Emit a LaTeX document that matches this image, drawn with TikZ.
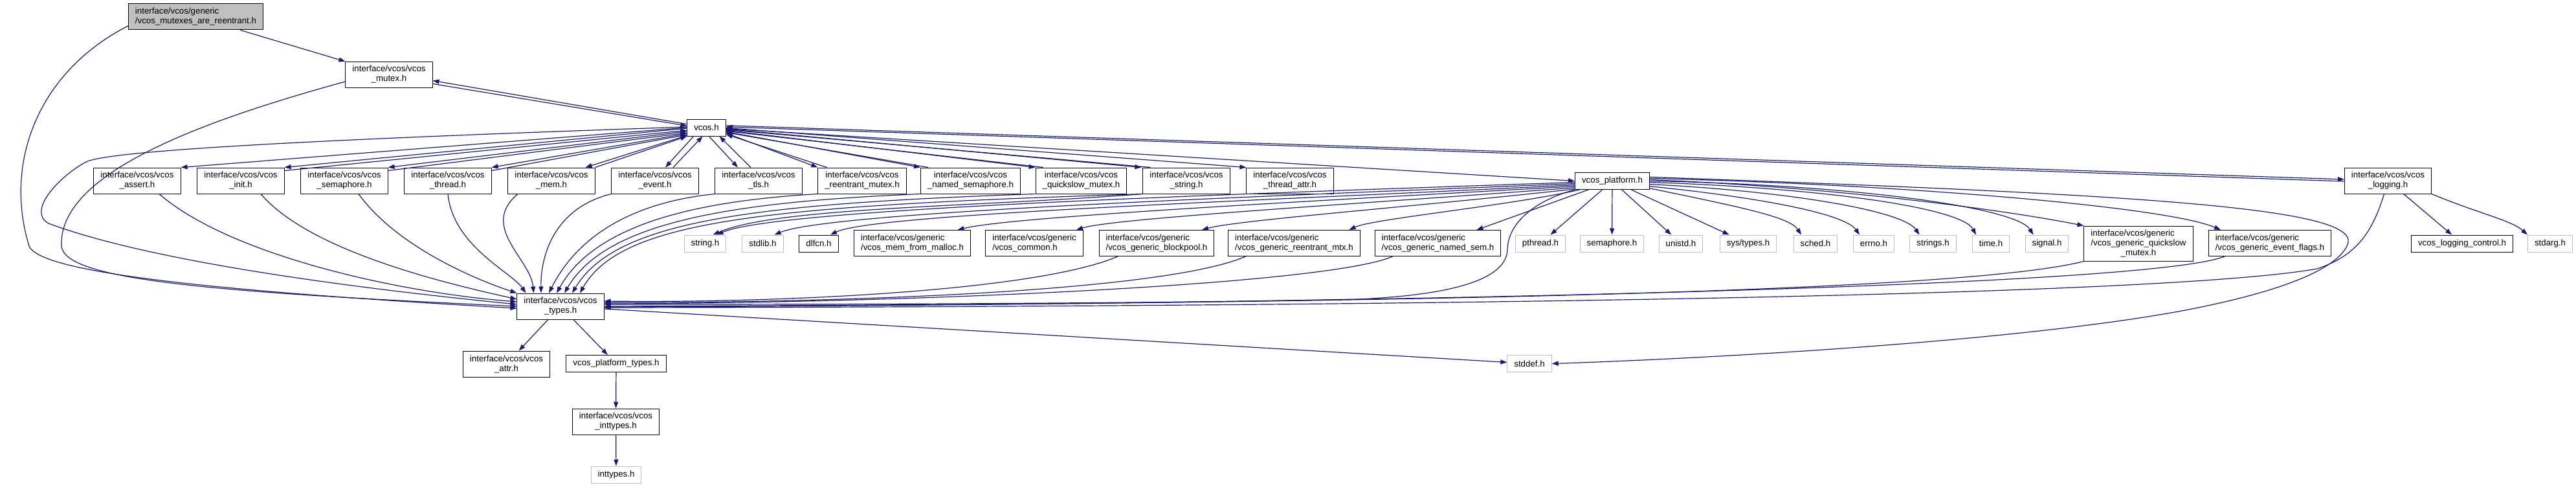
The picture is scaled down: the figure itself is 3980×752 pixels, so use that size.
\documentclass[tikz,border=0pt]{standalone}
\usepackage{fontspec}
\setmainfont{Liberation Sans}
\usetikzlibrary{arrows.meta}
\definecolor{edgeblue}{HTML}{191970}
\definecolor{rootgray}{HTML}{BFBFBF}
\definecolor{sysgray}{HTML}{BFBFBF}
\tikzset{
  hdr/.style={draw=black, line width=1pt, inner xsep=10.5pt, inner ysep=3pt, minimum height=26pt, font=\fontsize{13.3}{15}\selectfont},
  two/.style={hdr, minimum height=40pt, align=center},
  gen/.style={hdr, minimum height=40pt, align=left},
  three/.style={hdr, minimum height=54pt},
  sys/.style={hdr, draw=sysgray},
  dep/.style={draw=edgeblue, line width=1.2pt, -{Triangle[length=10pt,width=7pt]}}
}
\begin{document}
\begin{tikzpicture}[x=1pt,y=-1pt]
\useasboundingbox (0,0) rectangle (3980,752);

\node[gen, fill=rootgray] (root) at (302.5,26) {interface/vcos/generic\\/vcos\_mutexes\_are\_reentrant.h};
\node[two] (mutex) at (601,115) {interface/vcos/vcos\\\_mutex.h};
\node[hdr] (vcos) at (1091.5,197) {vcos.h};

\node[two] (assert) at (212,279) {interface/vcos/vcos\\\_assert.h};
\node[two] (init) at (372,279) {interface/vcos/vcos\\\_init.h};
\node[two] (sema) at (532,279) {interface/vcos/vcos\\\_semaphore.h};
\node[two] (thread) at (692,279) {interface/vcos/vcos\\\_thread.h};
\node[two] (mem) at (852,279) {interface/vcos/vcos\\\_mem.h};
\node[two] (event) at (1012,279) {interface/vcos/vcos\\\_event.h};
\node[two] (tls) at (1172,279) {interface/vcos/vcos\\\_tls.h};
\node[two] (remutex) at (1332,279) {interface/vcos/vcos\\\_reentrant\_mutex.h};
\node[two] (namedsema) at (1499.5,279) {interface/vcos/vcos\\\_named\_semaphore.h};
\node[two] (qsmutex) at (1670.5,279) {interface/vcos/vcos\\\_quickslow\_mutex.h};
\node[two] (vstring) at (1833,279) {interface/vcos/vcos\\\_string.h};
\node[two] (tattr) at (1993,279) {interface/vcos/vcos\\\_thread\_attr.h};
\node[hdr] (platform) at (2491,279.5) {vcos\_platform.h};
\node[two] (logging) at (3689.5,279) {interface/vcos/vcos\\\_logging.h};

\node[sys] (stringh) at (1089.5,376) {string.h};
\node[sys] (stdlibh) at (1178.5,376) {stdlib.h};
\node[hdr] (dlfcnh) at (1265,376) {dlfcn.h};
\node[gen] (memmalloc) at (1409.5,375.5) {interface/vcos/generic\\/vcos\_mem\_from\_malloc.h};
\node[gen] (common) at (1598,375.5) {interface/vcos/generic\\/vcos\_common.h};
\node[gen] (blockpool) at (1787,375.5) {interface/vcos/generic\\/vcos\_generic\_blockpool.h};
\node[gen] (remtx) at (1999.5,375.5) {interface/vcos/generic\\/vcos\_generic\_reentrant\_mtx.h};
\node[gen] (namedsem) at (2221.5,375.5) {interface/vcos/generic\\/vcos\_generic\_named\_sem.h};
\node[sys] (pthreadh) at (2380,376) {pthread.h};
\node[sys] (semah) at (2490.5,376) {semaphore.h};
\node[sys] (unistdh) at (2597,376) {unistd.h};
\node[sys] (systypesh) at (2701,376) {sys/types.h};
\node[sys] (schedh) at (2805,376) {sched.h};
\node[sys] (errnoh) at (2895,376) {errno.h};
\node[sys] (stringsh) at (2986.5,376) {strings.h};
\node[sys] (timeh) at (3076,376) {time.h};
\node[sys] (signalh) at (3162.5,376) {signal.h};
\node[three] (genqsm) at (3304,376) {\begin{tabular}{@{}l@{}}interface/vcos/generic\\/vcos\_generic\_quickslow\\\multicolumn{1}{@{}c@{}}{\_mutex.h}\end{tabular}};
\node[gen] (evflags) at (3507,375.5) {interface/vcos/generic\\/vcos\_generic\_event\_flags.h};
\node[hdr] (logctl) at (3804,376) {vcos\_logging\_control.h};
\node[sys] (stdargh) at (3940,376) {stdarg.h};

\node[two] (types) at (866,473) {interface/vcos/vcos\\\_types.h};
\node[two] (attr) at (782.5,562) {interface/vcos/vcos\\\_attr.h};
\node[hdr] (ptypes) at (952,561.5) {vcos\_platform\_types.h};
\node[sys] (stddefh) at (2363,561.5) {stddef.h};
\node[two] (vinttypes) at (951.5,651) {interface/vcos/vcos\\\_inttypes.h};
\node[sys] (inttypesh) at (952,733) {inttypes.h};

\draw[dep] (root) -- (mutex);
\draw[dep] ([yshift=-14]root.west) .. controls (60,110) and (5,250) .. (45,380) .. controls (60,415) and (250,445) .. ([yshift=-3]types.west);
\draw[dep] ([yshift=-11]mutex.west) .. controls (300,190) and (90,270) .. (95,380) .. controls (100,430) and (300,450) .. (types.west);
\draw[dep] (mutex.-12) -- (vcos.175);
\draw[dep] (vcos.170) -- (mutex.-8);

\draw[dep] (vcos.178) .. controls (500,215) and (170,232) .. (133,250) .. controls (95,270) and (40,325) .. (75,345) .. controls (250,410) and (600,450) .. ([yshift=3]types.west);
\draw[dep] (vcos.180) -- (assert.north east);
\draw[dep] (vcos.182) -- (init.north east);
\draw[dep] ([yshift=-5]init.north east) -- (vcos.188);
\draw[dep] (vcos.191) -- (sema.north east);
\draw[dep] ([yshift=-5]sema.north east) -- (vcos.195);
\draw[dep] (vcos.197) -- (thread.north east);
\draw[dep] ([yshift=-5]thread.north east) -- (vcos.200);
\draw[dep] (vcos.202) -- ([xshift=-15]mem.north east);
\draw[dep] (mem.north east) -- (vcos.south west);
\draw[dep] ([xshift=-20]vcos.south) -- ([xshift=16]event.north);
\draw[dep] ([xshift=28]event.north) -- ([xshift=-6]vcos.south);
\draw[dep] ([xshift=4]vcos.south) -- ([xshift=-32]tls.north);
\draw[dep] ([xshift=-12]tls.north) -- ([xshift=20]vcos.south);
\draw[dep] (vcos.-16) -- (remutex.north west);
\draw[dep] ([xshift=14]remutex.north west) -- (vcos.-19);
\draw[dep] (vcos.-12) -- (namedsema.north west);
\draw[dep] ([xshift=12]namedsema.north west) -- (vcos.-14);
\draw[dep] (vcos.-8) -- (qsmutex.north west);
\draw[dep] ([xshift=12]qsmutex.north west) -- (vcos.-10);
\draw[dep] (vcos.-4) -- ([xshift=-2]vstring.north west);
\draw[dep] ([xshift=12]vstring.north west) -- (vcos.-6);
\draw[dep] (vcos.-1) -- (tattr.north west);
\draw[dep] (vcos.-3) -- (platform.west);
\draw[dep] (vcos.6) -- ([yshift=2]logging.west);
\draw[dep] ([yshift=-1]logging.west) -- (vcos.2);

\draw[dep] ([xshift=34]assert.south) .. controls (350,390) and (600,450) .. ([yshift=7]types.west);
\draw[dep] ([xshift=31]init.south) .. controls (480,390) and (700,440) .. ([yshift=11]types.west);
\draw[dep] ([xshift=22]sema.south) .. controls (620,390) and (760,440) .. (types.north west);
\draw[dep] (thread.south) .. controls (700,380) and (790,420) .. ([xshift=14]types.north west);
\draw[dep] ([xshift=-52]mem.south) .. controls (740,350) and (820,400) .. ([xshift=26]types.north west);
\draw[dep] (event.south west) .. controls (860,320) and (835,390) .. ([xshift=-30]types.north);
\draw[dep] (tls.south west) .. controls (1000,310) and (900,350) .. ([xshift=-18]types.north);
\draw[dep] (remutex.south west) .. controls (1080,310) and (920,345) .. ([xshift=-6]types.north);
\draw[dep] (namedsema.south west) .. controls (1120,312) and (935,345) .. ([xshift=6]types.north);
\draw[dep] (qsmutex.south west) .. controls (1150,315) and (950,343) .. ([xshift=18]types.north);
\draw[dep] (vstring.south west) .. controls (1180,318) and (960,340) .. ([xshift=30]types.north);
\draw[dep] (vstring.south west) .. controls (1500,320) and (1200,320) .. ([xshift=12]stringh.north);

\draw[dep] (platform.south west) .. controls (2370,310) and (2330,345) .. (2329,385) .. controls (2328,430) and (2250,455) .. (2100,462) .. controls (1700,470) and (1200,470) .. ([yshift=3]types.east);
\draw[dep] (platform.182) .. controls (1900,300) and (1200,322) .. ([xshift=18]stringh.north);
\draw[dep] (platform.184) .. controls (1900,305) and (1280,328) .. ([xshift=18]stdlibh.north);
\draw[dep] (platform.186) .. controls (1950,310) and (1350,330) .. ([xshift=18]dlfcnh.north);
\draw[dep] (platform.188) .. controls (2000,312) and (1560,335) .. ([xshift=70]memmalloc.north);
\draw[dep] (platform.190) .. controls (2100,315) and (1720,337) .. ([xshift=65]common.north);
\draw[dep] (platform.192) .. controls (2200,318) and (1910,340) .. ([xshift=70]blockpool.north);
\draw[dep] (platform.195) .. controls (2330,318) and (2120,338) .. ([xshift=85]remtx.north);
\draw[dep] (platform.200) -- ([xshift=60]namedsem.north);
\draw[dep] (platform) -- (pthreadh);
\draw[dep] (platform) -- (semah);
\draw[dep] (platform) -- (unistdh);
\draw[dep] (platform) -- (systypesh);
\draw[dep] (platform.-11) .. controls (2690,320) and (2765,335) .. ([xshift=-22]schedh.north);
\draw[dep] (platform.-8) .. controls (2720,305) and (2850,330) .. ([xshift=-22]errnoh.north);
\draw[dep] (platform.-5) .. controls (2760,295) and (2940,325) .. ([xshift=-21]stringsh.north);
\draw[dep] (platform.-2) .. controls (2810,290) and (3030,320) .. ([xshift=-23]timeh.north);
\draw[dep] (platform.0) .. controls (2860,285) and (3115,320) .. ([xshift=-21]signalh.north);
\draw[dep] (platform.2) .. controls (2850,290) and (3100,325) .. (genqsm.north west);
\draw[dep] (platform.4) .. controls (2950,285) and (3350,320) .. ([xshift=-76]evflags.north);
\draw[dep] (platform.6) .. controls (3300,300) and (3640,320) .. (3628,375) .. controls (3610,430) and (3450,465) .. (3371,480) .. controls (3100,530) and (2600,555) .. (stddefh.east);

\draw[dep] ([xshift=-60]blockpool.south) .. controls (1600,450) and (1200,468) .. ([yshift=8]types.east);
\draw[dep] ([xshift=-75]remtx.south) .. controls (1800,450) and (1300,468) .. ([yshift=6]types.east);
\draw[dep] ([xshift=-70]namedsem.south) .. controls (2050,440) and (1400,468) .. ([yshift=4]types.east);
\draw[dep] (genqsm.south west) .. controls (3000,460) and (1800,470) .. (types.east);
\draw[dep] ([xshift=-70]evflags.south) .. controls (3300,450) and (1800,472) .. ([yshift=-1]types.east);

\draw[dep] ([xshift=-6]logging.south) .. controls (3665,360) and (3640,395) .. (3580,415) .. controls (3300,465) and (1800,474) .. ([yshift=-2]types.east);
\draw[dep] (logging) -- (logctl);
\draw[dep] (logging.south east) .. controls (3830,330) and (3880,340) .. (stdargh.north west);

\draw[dep] (types) -- (attr);
\draw[dep] (types) -- (ptypes);
\draw[dep] (types) -- (stddefh);
\draw[dep] (ptypes) -- (vinttypes);
\draw[dep] (vinttypes) -- (inttypesh);
\end{tikzpicture}
\end{document}
